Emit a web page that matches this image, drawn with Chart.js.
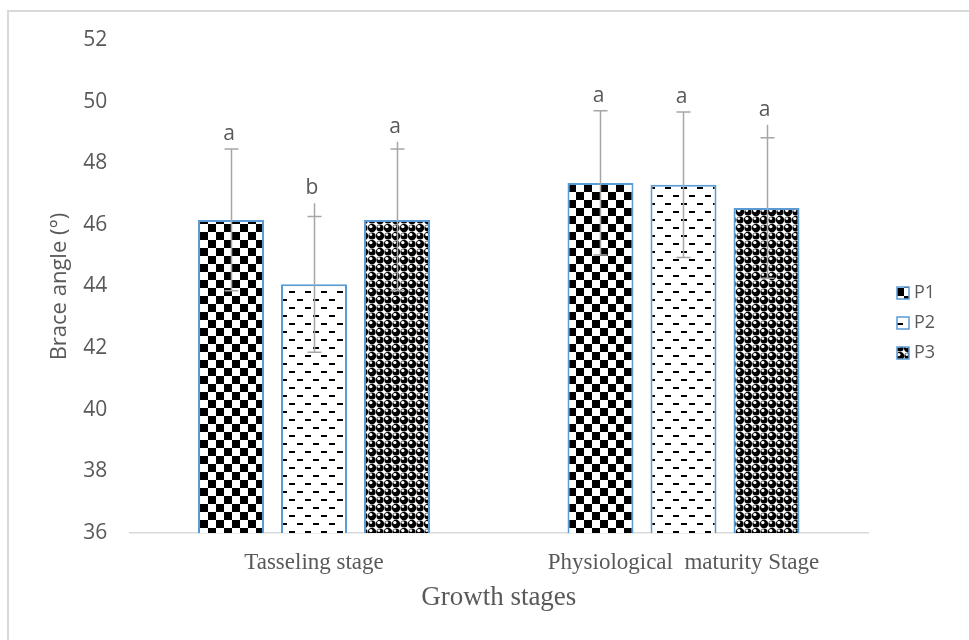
<!DOCTYPE html>
<html>
<head>
<meta charset="utf-8">
<script src="https://cdn.jsdelivr.net/npm/chart.js@4.4.1/dist/chart.umd.min.js"></script>
<style>
  html, body { margin: 0; padding: 0; background: #ffffff; }
  #wrap { position: relative; width: 969px; height: 640px; }
</style>
</head>
<body>
<div id="wrap"><canvas id="brace-chart" width="969" height="640"></canvas></div>
<script>
// Categories and series
const stages = ['Tasseling stage', 'Physiological  maturity Stage'];
const seriesNames = ['P1', 'P2', 'P3'];
const p1Values = [46.16, 47.36];
const p2Values = [44.07, 47.30];
const p3Values = [46.16, 46.55];

// Error bar half widths
const p1Errors = [2.30, 2.34];
const p2Errors = [2.20, 2.36];
const p3Errors = [2.30, 2.28];

// Where the error line reaches above its cap (as drawn in the source figure)
const p1StemTops = [48.46, 49.70];
const p2StemTops = [46.70, 49.66];
const p3StemTops = [48.70, 49.25];

// Significance letters
const p1Letters = ['a', 'a'];
const p2Letters = ['b', 'a'];
const p3Letters = ['a', 'a'];

// Y axis ticks
const yMin = 36;
const yMax = 52;
const yStep = 2;

const TEXT = '#595959';
const BLUE = '#5B9BD5';

/**
 * Build the fill patterns used by Excel style bars
 */
function makeTile(draw) {
  const c = document.createElement('canvas');
  c.width = 16;
  c.height = 16;
  const g = c.getContext('2d');
  g.fillStyle = '#ffffff';
  g.fillRect(0, 0, 16, 16);
  g.fillStyle = '#000000';
  draw(g);
  return document.getElementById('brace-chart').getContext('2d').createPattern(c, 'repeat');
}

// checkerboard
const checkPattern = makeTile(g => {
  g.fillRect(0, 0, 8, 8);
  g.fillRect(8, 8, 8, 8);
});

// dashed rows
const dashPattern = makeTile(g => {
  g.fillRect(1, 3, 6, 2);
  g.fillRect(9, 11, 6, 2);
});

// spheres on checker
const spherePattern = makeTile(g => {
  const pts = [[4, 4], [12, 12], [12, 4], [4, 12]];
  pts.forEach(([x, y], k) => {
    g.beginPath();
    g.arc(x, y, k < 2 ? 4.2 : 3.6, 0, Math.PI * 2);
    g.fill();
  });
  g.fillStyle = '#ffffff';
  pts.forEach(([x, y], k) => {
    g.beginPath();
    g.arc(x - 1.2, y - 1.4, k < 2 ? 1.7 : 1.4, 0, Math.PI * 2);
    g.fill();
  });
});

const patterns = [checkPattern, dashPattern, spherePattern];
const allValues = [p1Values, p2Values, p3Values];
const allErrors = [p1Errors, p2Errors, p3Errors];
const allStems = [p1StemTops, p2StemTops, p3StemTops];
const allLetters = [p1Letters, p2Letters, p3Letters];

// Error bars with caps and letters above them
const errorBarPlugin = {
  id: 'errorBars',
  afterDatasetsDraw(chart) {
    const ctx = chart.ctx;
    const y = chart.scales.y;
    ctx.save();
    ctx.strokeStyle = '#a6a6a6';
    ctx.lineWidth = 1.5;
    chart.data.datasets.forEach((ds, i) => {
      const meta = chart.getDatasetMeta(i);
      meta.data.forEach((bar, j) => {
        const v = allValues[i][j];
        const e = allErrors[i][j];
        const hi = y.getPixelForValue(v + e);
        const lo = y.getPixelForValue(v - e);
        const stem = y.getPixelForValue(Math.max(allStems[i][j], v + e));
        const x = Math.round(bar.x) + 0.5;
        ctx.beginPath();
        ctx.moveTo(x, lo);
        ctx.lineTo(x, stem);
        ctx.moveTo(x - 7, hi);
        ctx.lineTo(x + 7, hi);
        ctx.moveTo(x - 7, lo);
        ctx.lineTo(x + 7, lo);
        ctx.stroke();

        ctx.fillStyle = TEXT;
        ctx.font = '21px "Open Sans"';
        ctx.textAlign = 'center';
        ctx.textBaseline = 'middle';
        ctx.fillText(allLetters[i][j], bar.x - 2, stem - 15);
      });
    });
    ctx.restore();
  }
};

// Outer frame and right side legend
const framePlugin = {
  id: 'frameAndLegend',
  afterDraw(chart) {
    const ctx = chart.ctx;
    ctx.save();
    ctx.strokeStyle = '#d9d9d9';
    ctx.lineWidth = 2;
    ctx.strokeRect(8, 11, 1000, 1000);

    chart.data.datasets.forEach((ds, i) => {
      const top = 287 + i * 30;
      ctx.fillStyle = ds.backgroundColor;
      ctx.fillRect(897, top, 12, 12);
      ctx.strokeStyle = BLUE;
      ctx.lineWidth = 1.5;
      ctx.strokeRect(897, top, 12, 12);
      ctx.fillStyle = TEXT;
      ctx.font = '18px "Open Sans"';
      ctx.textAlign = 'left';
      ctx.textBaseline = 'middle';
      ctx.fillText(ds.label, 914, top + 6);
    });
    ctx.restore();
  }
};

new Chart(document.getElementById('brace-chart'), {
  type: 'bar',
  data: {
    labels: stages,
    datasets: seriesNames.map((name, i) => ({
      label: name,
      data: allValues[i],
      backgroundColor: patterns[i],
      borderColor: BLUE,
      borderWidth: 2,
      borderSkipped: false,
      categoryPercentage: 0.674,
      barPercentage: 0.795
    }))
  },
  options: {
    responsive: false,
    animation: false,
    events: [],
    layout: {
      padding: { top: 40, right: 100.75, left: 0, bottom: 0 }
    },
    plugins: {
      legend: { display: false },
      tooltip: { enabled: false }
    },
    scales: {
      y: {
        min: yMin,
        max: yMax,
        ticks: {
          stepSize: yStep,
          color: TEXT,
          padding: 22,
          font: { family: 'Open Sans', size: 21 }
        },
        grid: { display: false, drawTicks: false },
        border: { display: false },
        title: {
          display: true,
          text: 'Brace angle (°)',
          color: TEXT,
          font: { family: 'Open Sans', size: 22 },
          padding: { top: 47, bottom: 0 }
        },
        afterFit(scale) {
          scale.width = 129.25;
        }
      },
      x: {
        ticks: {
          color: TEXT,
          padding: 16,
          font: { family: 'Liberation Serif', size: 23 }
        },
        grid: { display: false, drawTicks: false },
        border: { display: true, color: '#d9d9d9', width: 1.5 },
        title: {
          display: true,
          text: 'Growth stages',
          color: TEXT,
          font: { family: 'Liberation Serif', size: 27 },
          padding: { top: 0, bottom: 26 }
        },
        afterFit(scale) {
          scale.height = 107;
        }
      }
    }
  },
  plugins: [errorBarPlugin, framePlugin]
});
</script>
</body>
</html>
